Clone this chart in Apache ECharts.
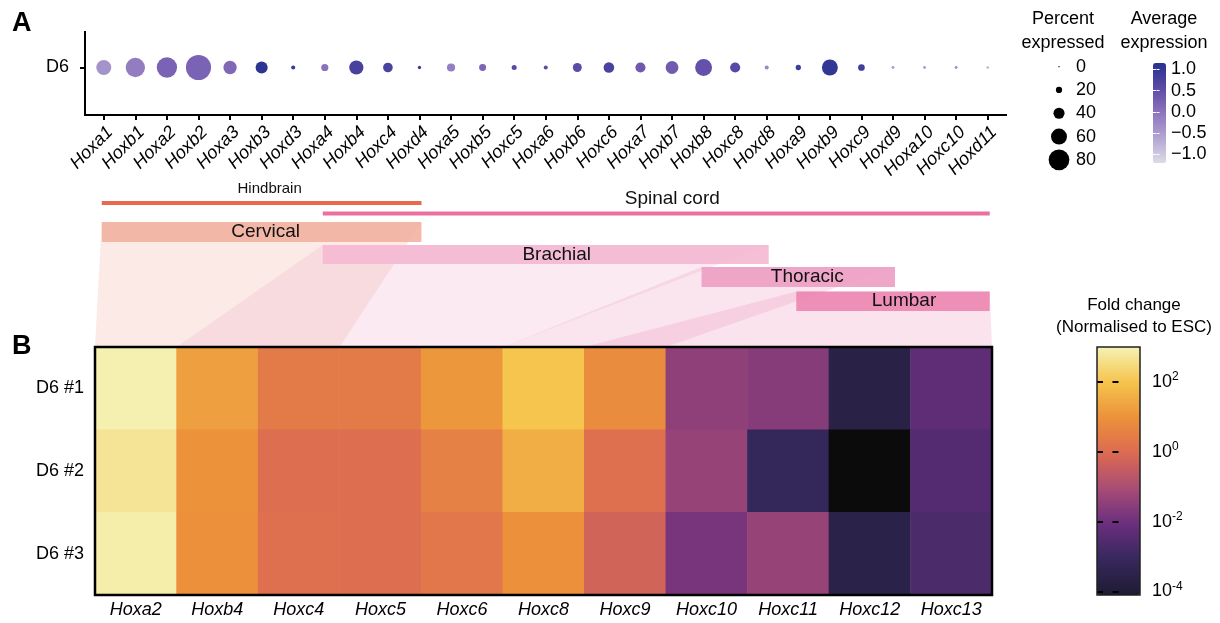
<!DOCTYPE html>
<html><head><meta charset="utf-8">
<script src="https://cdn.jsdelivr.net/npm/echarts@6/dist/echarts.min.js"></script>
<style>html,body{margin:0;padding:0;background:#fff}#c{width:1220px;height:623px}</style>
</head><body><div id="c"></div>
<script>
// ---------------- DATA ----------------
const dotGenes = ['Hoxa1','Hoxb1','Hoxa2','Hoxb2','Hoxa3','Hoxb3','Hoxd3','Hoxa4','Hoxb4','Hoxc4','Hoxd4','Hoxa5','Hoxb5','Hoxc5','Hoxa6','Hoxb6','Hoxc6','Hoxa7','Hoxb7','Hoxb8','Hoxc8','Hoxd8','Hoxa9','Hoxb9','Hoxc9','Hoxd9','Hoxa10','Hoxc10','Hoxd11'];
const dotSample = ['D6'];
const percentExpressed = [56,74,78,98,49,44,11,24,53,34,8,28,23,15,11,31,38,36,47,64,36,11,16,60,22,6,6,6,5];
const averageExpression = [-0.38,-0.12,0.21,0.21,0.14,1.08,0.95,0.0,0.78,0.74,0.9,-0.14,0.19,0.6,0.54,0.55,0.75,0.35,0.32,0.46,0.6,-0.25,0.9,1.02,0.84,-0.5,-0.5,-0.35,-0.75];
const percentLegendBreaks = [0,20,40,60,80];
const avgExprTicks = [-1,-0.5,0,0.5,1];

const heatGenes = ['Hoxa2','Hoxb4','Hoxc4','Hoxc5','Hoxc6','Hoxc8','Hoxc9','Hoxc10','Hoxc11','Hoxc12','Hoxc13'];
const heatSamples = ['D6 #1','D6 #2','D6 #3'];
// log10 fold change (normalised to ESC)
const log10FC_rep1 = [2.95,1.25,0.4,0.4,1.1,2.0,0.85,-1.45,-1.6,-3.6,-2.3];
const log10FC_rep2 = [2.7,1.0,0.05,0.05,0.55,1.55,0.1,-1.35,-3.15,-5.0,-2.5];
const log10FC_rep3 = [2.9,0.95,0.1,0.05,0.3,0.95,-0.25,-1.85,-1.35,-3.55,-2.65];
const foldChangeTicks = [-4,-2,0,2];

const tissueNames = ['Hindbrain','Spinal cord'];
const tissueStartGene = ['Hoxa1','Hoxa4'];
const tissueEndGene = ['Hoxd4','Hoxd11'];
const regionNames = ['Cervical','Brachial','Thoracic','Lumbar'];
const regionStartGene = ['Hoxa1','Hoxa4','Hoxb8','Hoxa9'];
const regionEndGene = ['Hoxd4','Hoxd8','Hoxd9','Hoxd11'];
const regionHeatStart = ['Hoxa2','Hoxb4','Hoxc8','Hoxc9'];
const regionHeatEnd = ['Hoxc4','Hoxc6','Hoxc9','Hoxc13'];

// ---------------- STYLE / LAYOUT ----------------
const FONT = '"Liberation Sans", Arial, Helvetica, sans-serif';
const sizeOf = p => 1.4 + 0.242 * p;
const DOT = {left: 88, top: 20, width: 915.5, height: 95};
const HEAT = {left: 95, top: 347, width: 897, height: 248};
const tissueStyle = [
  {color: '#e8694e', lineY: 203, textY: 189, fontSize: 15, textShift: 8},
  {color: '#ec6fa0', lineY: 213.5, textY: 199, fontSize: 19, textShift: 16}
];
const regionStyle = [
  {color: '#f2b3a3', poly: '#f2b3a3', top: 222, bottom: 242, textShift: 4},
  {color: '#f4bad2', poly: '#f2b0cc', top: 245, bottom: 264, textShift: 11},
  {color: '#eea0c4', poly: '#ec9cc0', top: 267, bottom: 287, textShift: 9},
  {color: '#ec88b2', poly: '#ee98be', top: 291.5, bottom: 311, textShift: 11}
];

const heatData = [];
[log10FC_rep1, log10FC_rep2, log10FC_rep3].forEach((row, r) => row.forEach((v, c) => heatData.push([c, r, v])));

const chart = echarts.init(document.getElementById('c'), null, {renderer: 'canvas'});

const T = (txt, x, y, font, align) => ({type: 'text', x: x, y: y, silent: true,
  style: {text: txt, font: font, fill: '#000', align: align || 'center', verticalAlign: 'middle', textAlign: align || 'center', textVerticalAlign: 'middle'}});

const baseGraphics = [
  T('A', 12, 24, 'bold 27px ' + FONT, 'left'),
  T('B', 12, 347, 'bold 27px ' + FONT, 'left'),
  // dot-plot axis lines
  {type: 'line', silent: true, shape: {x1: 85, y1: 31, x2: 85, y2: 116}, style: {stroke: '#000', lineWidth: 2}},
  {type: 'line', silent: true, shape: {x1: 84, y1: 115, x2: 1007, y2: 115}, style: {stroke: '#000', lineWidth: 2}},
  // legend titles
  T('Percent', 1063, 19, '18px ' + FONT),
  T('expressed', 1063, 43, '18px ' + FONT),
  T('Average', 1164, 19, '18px ' + FONT),
  T('expression', 1164, 43, '18px ' + FONT),
  T('Fold change', 1134, 305, '17px ' + FONT),
  T('(Normalised to ESC)', 1134, 327, '17px ' + FONT),
  // borders
  {type: 'rect', z: 100, silent: true, shape: {x: HEAT.left, y: HEAT.top, width: HEAT.width, height: HEAT.height}, style: {fill: 'none', stroke: '#000', lineWidth: 2.5}},
  {type: 'rect', z: 100, silent: true, shape: {x: 1097, y: 347, width: 43, height: 248}, style: {fill: 'none', stroke: '#222', lineWidth: 1.5}}
];

const hiddenX = gi => ({gridIndex: gi, type: 'value', show: false, min: -1, max: 1});

const option = {
  animation: false,
  textStyle: {fontFamily: FONT},
  grid: [
    {left: DOT.left, top: DOT.top, width: DOT.width, height: DOT.height},
    {left: HEAT.left, top: HEAT.top, width: HEAT.width, height: HEAT.height},
    {left: 1049, top: 55, width: 20, height: 116.5},
    {left: 1153, top: 63, width: 13, height: 100},
    {left: 1097, top: 347, width: 43, height: 248}
  ],
  xAxis: [
    {gridIndex: 0, type: 'category', data: dotGenes,
     axisLine: {show: false},
     axisTick: {show: true, alignWithLabel: true, length: 5, lineStyle: {color: '#000', width: 2}},
     axisLabel: {rotate: 45, interval: 0, margin: 8, verticalAlign: 'top', fontSize: 18, fontStyle: 'italic', color: '#000'}},
    {gridIndex: 1, type: 'category', data: heatGenes,
     axisLine: {show: false}, axisTick: {show: false},
     axisLabel: {interval: 0, margin: 6, fontSize: 18, fontStyle: 'italic', color: '#000'}},
    hiddenX(2), hiddenX(3), hiddenX(4)
  ],
  yAxis: [
    {gridIndex: 0, type: 'category', data: dotSample, offset: 3,
     axisLine: {show: false},
     axisTick: {show: true, alignWithLabel: true, length: 5, lineStyle: {color: '#000', width: 2}},
     axisLabel: {margin: 16, fontSize: 18, color: '#000'}},
    {gridIndex: 1, type: 'category', data: heatSamples, inverse: true,
     axisLine: {show: false}, axisTick: {show: false},
     axisLabel: {margin: 11, fontSize: 18, color: '#000'}},
    {gridIndex: 2, type: 'category', data: percentLegendBreaks.map(String), inverse: true, position: 'right',
     axisLine: {show: false}, axisTick: {show: false},
     axisLabel: {interval: 0, margin: 7, fontSize: 18, color: '#000'}},
    {gridIndex: 3, type: 'value', min: -1.2, max: 1.15, position: 'right', z: 10,
     axisLine: {show: false}, splitLine: {show: false},
     axisTick: {show: true, inside: true, length: 3, customValues: avgExprTicks, lineStyle: {color: '#fff', width: 1}},
     axisLabel: {margin: 5, fontSize: 18, color: '#000', customValues: avgExprTicks,
       formatter: v => (v < 0 ? '\u2212' : '') + Math.abs(v).toFixed(1)}},
    {gridIndex: 3, type: 'value', min: -1.2, max: 1.15, position: 'left', z: 10,
     axisLine: {show: false}, splitLine: {show: false}, axisLabel: {show: false},
     axisTick: {show: true, inside: true, length: 3, customValues: avgExprTicks, lineStyle: {color: '#fff', width: 1}}},
    {gridIndex: 4, type: 'value', min: -4.1, max: 3.0, position: 'right', z: 10,
     axisLine: {show: false}, splitLine: {show: false},
     axisTick: {show: true, inside: true, length: 6, customValues: foldChangeTicks, lineStyle: {color: '#000', width: 2}},
     axisLabel: {margin: 12, color: '#000', customValues: foldChangeTicks,
       formatter: v => '{b|10}{s|' + (v < 0 ? '-' : '') + Math.abs(v) + '}',
       rich: {b: {fontSize: 18, lineHeight: 22, fontFamily: FONT}, s: {fontSize: 12, lineHeight: 12, verticalAlign: 'top', fontFamily: FONT}}}},
    {gridIndex: 4, type: 'value', min: -4.1, max: 3.0, position: 'left', z: 10,
     axisLine: {show: false}, splitLine: {show: false}, axisLabel: {show: false},
     axisTick: {show: true, inside: true, length: 6, customValues: foldChangeTicks, lineStyle: {color: '#000', width: 2}}}
  ],
  visualMap: [
    {type: 'continuous', seriesIndex: 0, dimension: 3, min: -1.2, max: 1.15,
     left: 1153, top: 63, itemWidth: 13, itemHeight: 100, padding: 0, calculable: false, hoverLink: false,
     inRange: {color: ['#dcdce6', '#b3a5d4', '#8e74bd', '#5c4aa6', '#26328f']}},
    {type: 'continuous', seriesIndex: 1, dimension: 2, min: -4.1, max: 3.0, range: [-4.08, 3.0],
     left: 1097, top: 347, itemWidth: 43, itemHeight: 248, padding: 0, calculable: false, hoverLink: false,
     inRange: {color: ['#1e1b33', '#36285c', '#6a2e7e', '#a84c75', '#dc6a52', '#ec913a', '#f5c44c', '#f5f2b4']},
     outOfRange: {color: '#0b0b0b'}}
  ],
  series: [
    {type: 'scatter', xAxisIndex: 0, yAxisIndex: 0,
     data: dotGenes.map((g, i) => [i, 0, percentExpressed[i], averageExpression[i]]),
     symbolSize: v => sizeOf(v[2]), itemStyle: {opacity: 1}},
    {type: 'heatmap', xAxisIndex: 1, yAxisIndex: 1, data: heatData, itemStyle: {borderWidth: 0}},
    {type: 'scatter', xAxisIndex: 2, yAxisIndex: 2,
     data: percentLegendBreaks.map((b, i) => [0, i, b]),
     symbolSize: v => sizeOf(v[2]), itemStyle: {color: '#000', opacity: 1}}
  ],
  graphic: baseGraphics
};
chart.setOption(option);

// ------------- region annotations placed through the axes' scales -------------
const gx = name => chart.convertToPixel({xAxisIndex: 0}, dotGenes.indexOf(name));
const hc = j => chart.convertToPixel({xAxisIndex: 1}, j);
const band = hc(1) - hc(0);
const hl = name => hc(heatGenes.indexOf(name)) - band / 2;
const hr = name => hc(heatGenes.indexOf(name)) + band / 2;
const PAD = 2;
const overlay = [];
const centerText = (txt, x, y, size, z) => ({type: 'text', z: z, x: x, y: y, silent: true,
  style: {text: txt, font: size + 'px ' + FONT, fill: '#111', align: 'center', verticalAlign: 'middle', textAlign: 'center', textVerticalAlign: 'middle'}});

tissueNames.forEach((t, i) => {
  const s = tissueStyle[i];
  const x1 = gx(tissueStartGene[i]) - PAD, x2 = gx(tissueEndGene[i]) + PAD;
  overlay.push({type: 'line', z: 5, silent: true, shape: {x1: x1, y1: s.lineY, x2: x2, y2: s.lineY}, style: {stroke: s.color, lineWidth: 4}});
  overlay.push(centerText(t, (x1 + x2) / 2 + s.textShift, s.textY, s.fontSize, 6));
});
regionNames.forEach((r, i) => {
  const s = regionStyle[i];
  const x1 = gx(regionStartGene[i]) - PAD, x2 = gx(regionEndGene[i]) + PAD;
  overlay.push({type: 'polygon', z: 1, silent: true,
    shape: {points: [[x1, s.top], [x2, s.top], [hr(regionHeatEnd[i]), HEAT.top], [hl(regionHeatStart[i]), HEAT.top]]},
    style: {fill: s.poly, opacity: 0.27}});
});
regionNames.forEach((r, i) => {
  const s = regionStyle[i];
  const x1 = gx(regionStartGene[i]) - PAD, x2 = gx(regionEndGene[i]) + PAD;
  overlay.push({type: 'rect', z: 3, silent: true, shape: {x: x1, y: s.top, width: x2 - x1, height: s.bottom - s.top},
    style: {fill: s.color, opacity: 0.92}});
  overlay.push(centerText(r, (x1 + x2) / 2 + s.textShift, (s.top + s.bottom) / 2, 19, 4));
});
chart.setOption({graphic: baseGraphics.concat(overlay)});
</script>
</body></html>
